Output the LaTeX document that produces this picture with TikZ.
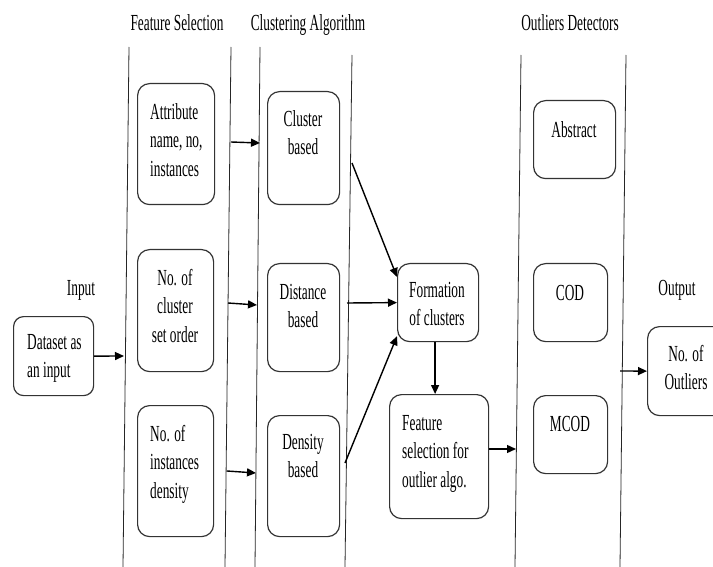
\documentclass[tikz,border=0pt]{standalone}
\usepackage{fontspec}
\setmainfont{Liberation Serif}[FakeStretch=0.58]
\usetikzlibrary{arrows.meta}
\begin{document}
\begin{tikzpicture}[x=1pt, y=-1pt, font=\fontsize{23}{28.5}\selectfont,
  box/.style={draw=black!80, line width=1.2pt, rounded corners=12pt, anchor=north west, inner sep=0pt},
  lbl/.style={inner sep=0pt, anchor=north, align=center, yshift=-7pt},
  lbll/.style={inner sep=0pt, anchor=north west, align=left, yshift=-7pt},
  head/.style={inner sep=0pt, anchor=base},
  lane/.style={draw=black!85, line width=0.8pt},
  arr/.style={-{Triangle[length=9pt,width=8pt]}, line width=1.4pt}]
	\path[use as bounding box, clip] (0,0) rectangle (713,567);

	% Headings
	\node[head] (hfeat) at (177,31) {Feature Selection};
	\node[head] (hclus) at (308,31) {Clustering Algorithm};
	\node[head] (hdet) at (570,31) {Outliers Detectors};
	\node[head] (hin) at (81,295) {Input};
	\node[head] (hout) at (677,295) {Output};

	% Lanes
	\draw[lane] (129,47) -- (123,567);
	\draw[lane] (231,47) -- (225,567);
	\draw[lane] (260,47) -- (255,567);
	\draw[lane] (352,55) -- (345,567);
	\draw[lane] (521,55) -- (515,567);
	\draw[lane] (626,55) -- (620,567);

	% Input
	\node[box, minimum width=80pt, minimum height=79pt, rounded corners=10pt] (data) at (13,316) {};
	\node[lbll] (data-t) at (27,327) {Dataset as\\an input};

	% Feature selection
	\node[box, minimum width=77pt, minimum height=121pt] (attr) at (137,83) {};
	\node[lbll] (attr-t) at (150,96) {Attribute\\name, no,\\instances};
	\node[box, minimum width=76pt, minimum height=122pt] (noclus) at (137,249) {};
	\node[lbl] (noclus-t) at (175,262) {No. of\\cluster\\set order};
	\node[box, minimum width=76pt, minimum height=131pt] (noinst) at (137,405) {};
	\node[lbll] (noinst-t) at (150,418) {No. of\\instances\\density};

	% Clustering algorithm
	\node[box, minimum width=72pt, minimum height=113pt] (clusb) at (267,91) {};
	\node[lbl] (clusb-t) at (303,103) {Cluster\\based};
	\node[box, minimum width=72pt, minimum height=108pt] (distb) at (267,263) {};
	\node[lbl] (distb-t) at (303,277) {Distance\\based};
	\node[box, minimum width=72pt, minimum height=121pt] (densb) at (267,415) {};
	\node[lbl] (densb-t) at (303,427) {Density\\based};

	% Formation and selection
	\node[box, minimum width=81pt, minimum height=78pt] (form) at (397,263) {};
	\node[lbl] (form-t) at (437,275) {Formation\\of clusters};
	\node[box, minimum width=99pt, minimum height=124pt] (feat) at (389,394) {};
	\node[lbll] (feat-t) at (402,408) {Feature\\selection for\\outlier algo.};

	% Outliers detectors
	\node[box, minimum width=82pt, minimum height=78pt] (abstr) at (533,100) {};
	\node[lbl] (abstr-t) at (574,114) {Abstract};
	\node[box, minimum width=74pt, minimum height=78pt] (cod) at (533,263) {};
	\node[lbl] (cod-t) at (570,278) {COD};
	\node[box, minimum width=74pt, minimum height=78pt] (mcod) at (533,395) {};
	\node[lbl] (mcod-t) at (570,409) {MCOD};

	% Output
	\node[box, minimum width=80pt, minimum height=89pt] (outl) at (647,326) {};
	\node[lbl] (outl-t) at (686,338) {No. of\\Outliers};

	% Lane points
	\coordinate (in1) at (124,356);
	\coordinate (a2) at (231,142); \coordinate (a3) at (260,143);
	\coordinate (b2) at (228,303); \coordinate (b3) at (257,305);
	\coordinate (c2) at (227,471); \coordinate (c3) at (256,473);
	\coordinate (d4) at (352,163); \coordinate (e4) at (347,303); \coordinate (f4) at (345,463);
	\coordinate (g5) at (516,449); \coordinate (h6) at (620,371);

	% Arrows
	\draw[arr] (data.east) -- (in1);
	\draw[arr] (a2) -- (a3);
	\draw[arr] (b2) -- (b3);
	\draw[arr] (c2) -- (c3);
	\draw[arr] (d4) -- ([yshift=-14pt]form.north west);
	\draw[arr] (e4) -- (form.west);
	\draw[arr] (f4) -- ([yshift=6pt]form.south west);
	\draw[arr] ([xshift=-3pt]form.south) -- ([xshift=-3pt]form.south |- feat.north);
	\draw[arr] (feat.east |- g5) -- (g5);
	\draw[arr] (h6) -- (outl.west);
\end{tikzpicture}
\end{document}
